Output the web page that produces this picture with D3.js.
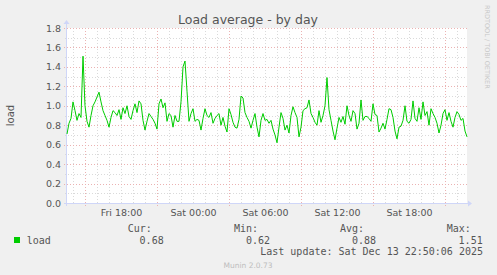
<!DOCTYPE html>
<html>
<head>
<meta charset="utf-8">
<script src="https://cdn.jsdelivr.net/npm/d3@7"></script>
<style>
  body { margin: 0; background: #f0f0f0; }
  svg { display: block; }
</style>
</head>
<body>
<svg id="chart" width="497" height="275"></svg>
<script>
// load average samples, one every 10 minutes, Fri 13:30 -> Sat 22:50
const loadValues = [
  0.71, 0.82, 0.87, 1.04, 0.95, 0.85, 0.92, 0.88, 1.51, 1.00, 0.84, 0.78, 0.90, 1.00, 1.04, 1.09, 1.14, 1.04, 0.95, 0.90, 0.85, 0.78, 0.88, 0.95, 0.93,
  0.90, 0.96, 0.86, 0.98, 0.92, 1.00, 0.89, 0.86, 0.95, 1.02, 0.93, 1.05, 1.02, 0.85, 0.75, 0.84, 0.92, 0.89, 0.86, 0.82, 0.76, 1.02, 1.07, 0.98, 1.03,
  0.84, 0.92, 0.90, 0.78, 0.90, 0.84, 0.84, 1.04, 1.40, 1.46, 1.15, 0.84, 0.92, 0.97, 0.84, 0.86, 0.85, 0.75, 0.87, 0.97, 0.90, 0.88, 0.93, 0.82, 0.87,
  0.90, 0.92, 0.80, 0.88, 0.79, 0.73, 0.97, 0.91, 0.83, 0.78, 0.77, 0.86, 1.10, 1.08, 0.93, 0.88, 0.84, 0.77, 0.85, 0.92, 0.78, 0.68, 0.85, 0.92, 0.85,
  0.86, 0.82, 0.85, 0.76, 0.70, 0.62, 0.78, 0.93, 0.87, 0.75, 0.80, 0.72, 0.90, 0.99, 0.93, 0.88, 0.68, 0.78, 0.95, 0.97, 0.98, 1.06, 0.92, 0.88, 0.83,
  0.80, 0.95, 0.83, 0.90, 1.00, 1.29, 0.96, 0.85, 0.74, 0.65, 0.77, 0.88, 0.83, 0.89, 0.81, 1.00, 0.90, 0.84, 0.95, 0.92, 0.76, 0.82, 1.06, 0.85, 0.89,
  0.89, 0.87, 0.84, 1.02, 0.91, 0.90, 0.73, 0.77, 0.82, 0.76, 0.86, 0.97, 0.96, 0.88, 0.74, 0.66, 0.78, 0.79, 0.85, 1.00, 0.84, 0.82, 0.86, 1.05, 0.87,
  0.84, 0.98, 0.86, 1.04, 0.90, 0.94, 0.80, 0.97, 0.92, 0.88, 0.82, 0.72, 0.80, 0.92, 0.96, 0.85, 0.93, 0.84, 0.78, 0.88, 0.94, 0.91, 0.85, 0.87, 0.74, 0.68
]
const startTime = new Date(2025, 11, 12, 13, 30)
const stepMinutes = 10

const yTicks = [0, 0.2, 0.4, 0.6, 0.8, 1.0, 1.2, 1.4, 1.6, 1.8]
const statLabels = ['Cur:', 'Min:', 'Avg:', 'Max:']
const statValues = ['0.68', '0.62', '0.88', '1.51']
const seriesName = 'load'
const lastUpdate = 'Last update: Sat Dec 13 22:50:06 2025'

const points = loadValues.map((v, i) => ({ t: d3.timeMinute.offset(startTime, i * stepMinutes), v }))
const endTime = points[points.length - 1].t

const svg = d3.select('#chart')
const plot = { left: 67, right: 467, top: 28, bottom: 203 }
const sans = 'DejaVu Sans, sans-serif'
const mono = 'DejaVu Sans Mono, monospace'

const x = d3.scaleTime().domain([startTime, endTime]).range([plot.left, plot.right])
const y = d3.scaleLinear().domain([0, 1.8]).range([plot.bottom, plot.top])

svg.append('rect')
  .attr('width', 497).attr('height', 275).attr('fill', '#f0f0f0')

svg.append('rect')
  .attr('x', plot.left).attr('y', plot.top)
  .attr('width', plot.right - plot.left).attr('height', plot.bottom - plot.top)
  .attr('fill', '#ffffff')

// grid
const grid = svg.append('g').attr('shape-rendering', 'crispEdges')
const hours = d3.timeHour.range(startTime, endTime)
const minorY = d3.range(1, 18).map(i => i / 10).filter(v => Math.round(v * 10) % 2 === 1)
const minorColor = '#dadada'
const majorColor = '#ebb2b2'

grid.selectAll('line.hmin').data(minorY).enter().append('line')
  .attr('x1', plot.left - 2).attr('x2', plot.right)
  .attr('y1', d => Math.round(y(d)) + 0.5).attr('y2', d => Math.round(y(d)) + 0.5)
  .attr('stroke', minorColor).attr('stroke-dasharray', '1,2')

grid.selectAll('line.vmin').data(hours.filter(h => h.getHours() % 6 !== 3)).enter().append('line')
  .attr('x1', d => Math.round(x(d)) + 0.5).attr('x2', d => Math.round(x(d)) + 0.5)
  .attr('y1', plot.top).attr('y2', plot.bottom + 2)
  .attr('stroke', minorColor).attr('stroke-dasharray', '1,2')

grid.selectAll('line.hmaj').data(yTicks.slice(1)).enter().append('line')
  .attr('x1', plot.left - 3).attr('x2', plot.right)
  .attr('y1', d => Math.round(y(d)) + 0.5).attr('y2', d => Math.round(y(d)) + 0.5)
  .attr('stroke', majorColor).attr('stroke-dasharray', '1,2')

grid.selectAll('line.vmaj').data(hours.filter(h => h.getHours() % 6 === 3)).enter().append('line')
  .attr('x1', d => Math.round(x(d)) + 0.5).attr('x2', d => Math.round(x(d)) + 0.5)
  .attr('y1', plot.top).attr('y2', plot.bottom + 3)
  .attr('stroke', majorColor).attr('stroke-dasharray', '1,2')

// axes
const yAxis = svg.append('g')
  .attr('transform', `translate(${plot.left},0)`)
  .call(d3.axisLeft(y).tickValues(yTicks).tickFormat(d3.format('.1f')).tickSize(0).tickPadding(6))
yAxis.select('.domain').remove()
yAxis.selectAll('text')
  .attr('font-family', sans).attr('font-size', '9.5px').attr('fill', '#555')

const labelHours = hours.filter(h => h.getHours() % 6 === 0)
const xAxis = svg.append('g')
  .attr('transform', `translate(0,${plot.bottom})`)
  .call(d3.axisBottom(x).tickValues(labelHours).tickFormat(d3.timeFormat('%a %H:%M')).tickSize(0).tickPadding(6))
xAxis.select('.domain').remove()
xAxis.selectAll('text')
  .attr('font-family', sans).attr('font-size', '9.5px').attr('fill', '#555')

const axisColor = '#cfd6f8'
svg.append('line')
  .attr('x1', plot.left - 0.5).attr('x2', plot.left - 0.5)
  .attr('y1', plot.top - 4).attr('y2', plot.bottom + 3)
  .attr('stroke', axisColor)
svg.append('line')
  .attr('x1', plot.left - 3).attr('x2', plot.right + 2)
  .attr('y1', plot.bottom + 0.5).attr('y2', plot.bottom + 0.5)
  .attr('stroke', axisColor)
svg.append('path')
  .attr('d', `M${plot.left - 3.5},${plot.top - 4} L${plot.left + 2.5},${plot.top - 4} L${plot.left - 0.5},${plot.top - 8} Z`)
  .attr('fill', axisColor)
svg.append('path')
  .attr('d', `M${plot.right + 1},${plot.bottom - 2.5} L${plot.right + 1},${plot.bottom + 3.5} L${plot.right + 5},${plot.bottom + 0.5} Z`)
  .attr('fill', axisColor)

// series line
const line = d3.line().x(d => x(d.t)).y(d => y(d.v))
svg.append('path')
  .datum(points)
  .attr('d', line)
  .attr('fill', 'none')
  .attr('stroke', '#00cc00')
  .attr('stroke-width', 1)

// titles
svg.append('text')
  .attr('x', 248).attr('y', 24)
  .attr('text-anchor', 'middle')
  .attr('font-family', sans).attr('font-size', '12.5px').attr('fill', '#555')
  .text('Load average - by day')

svg.append('text')
  .attr('transform', `translate(14,${(plot.top + plot.bottom) / 2}) rotate(-90)`)
  .attr('text-anchor', 'middle')
  .attr('font-family', sans).attr('font-size', '10px').attr('fill', '#555')
  .text('load')

svg.append('text')
  .attr('transform', 'translate(485,5) rotate(90)')
  .attr('font-family', sans).attr('font-size', '6.5px').attr('fill', '#c8c8c8')
  .text('RRDTOOL / TOBI OETIKER')

// legend
const legend = svg.append('g')
  .attr('font-family', mono).attr('font-size', '10px').attr('fill', '#555')
  .attr('xml:space', 'preserve')

const statX = [127.7, 234, 340, 446.7]
legend.selectAll('text.head').data(statLabels).enter().append('text')
  .attr('x', (d, i) => statX[i]).attr('y', 232)
  .text(d => d)
legend.selectAll('text.val').data(statValues).enter().append('text')
  .attr('x', (d, i) => statX[i] + 36).attr('y', 243.5)
  .attr('text-anchor', 'end')
  .text(d => d)

legend.append('rect')
  .attr('x', 14).attr('y', 237).attr('width', 6).attr('height', 6)
  .attr('fill', '#00cc00')
legend.append('text')
  .attr('x', 26.7).attr('y', 243.5)
  .text(seriesName)

legend.append('text')
  .attr('x', 483).attr('y', 255)
  .attr('text-anchor', 'end')
  .text(lastUpdate)

svg.append('text')
  .attr('x', 248).attr('y', 267.5)
  .attr('text-anchor', 'middle')
  .attr('font-family', sans).attr('font-size', '7.5px').attr('fill', '#bdbdbd')
  .text('Munin 2.0.73')
</script>
</body>
</html>
